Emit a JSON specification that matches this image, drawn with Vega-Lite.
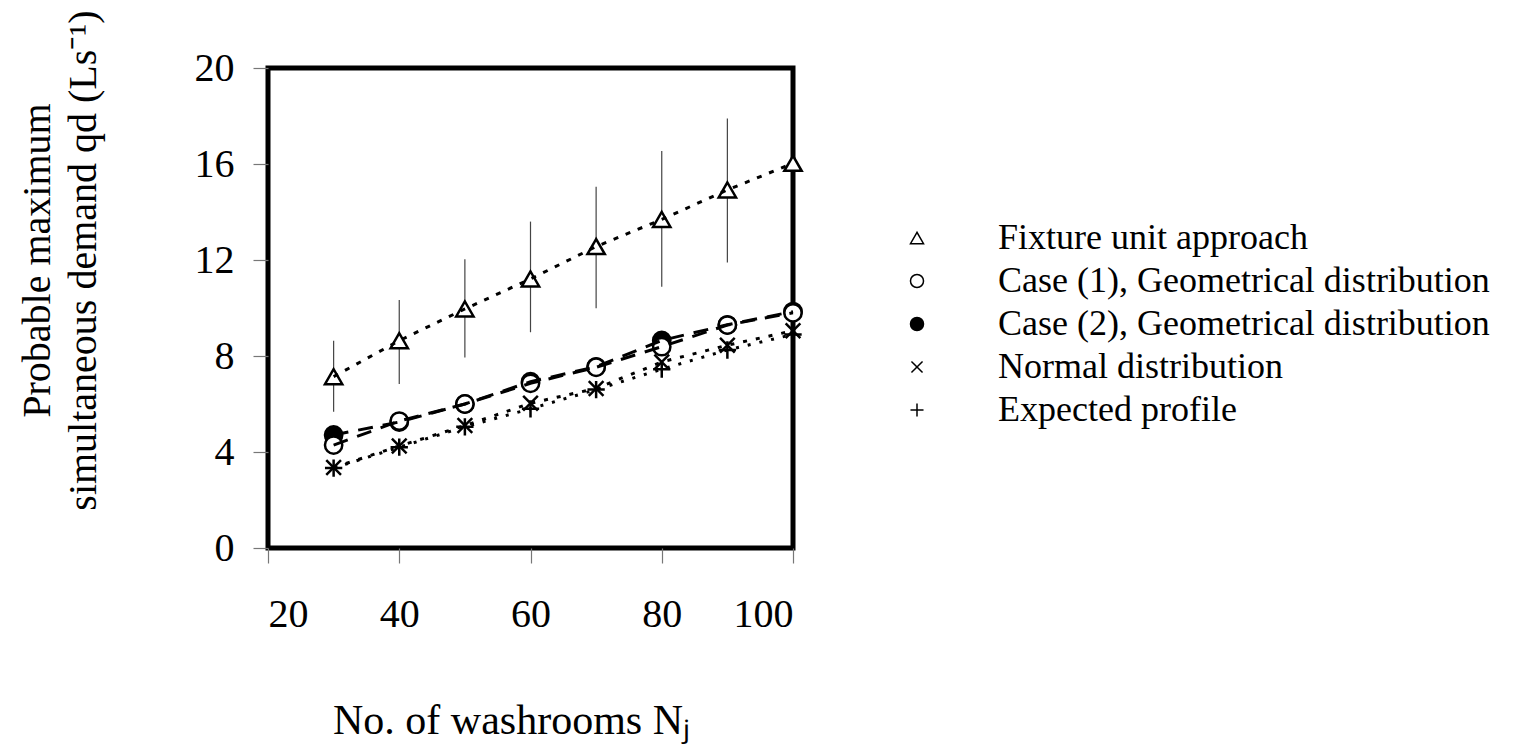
{
  "$schema": "https://vega.github.io/schema/vega-lite/v6.json",
  "width": 525,
  "height": 480,
  "autosize": {"type": "none"},
  "padding": {"left": 268, "top": 68, "right": 732, "bottom": 197},
  "background": "white",
  "config": {
    "font": "Liberation Serif",
    "view": {"stroke": "black", "strokeWidth": 5},
    "axis": {
      "grid": false, "domain": false, "tickColor": "#777", "tickWidth": 1.2, "tickSize": 15,
      "labelFont": "Liberation Serif", "labelFontSize": 40, "labelColor": "black",
      "titleFont": "Liberation Serif", "titleFontSize": 40, "titleFontWeight": "normal", "titleColor": "black"
    },
    "legend": {
      "labelFont": "Liberation Serif", "labelFontSize": 36, "labelColor": "black", "labelLimit": 900,
      "labelOffset": 63, "rowPadding": 7, "symbolSize": 170, "symbolStrokeWidth": 1.5,
      "symbolStrokeColor": "black", "padding": 0
    }
  },
  "data": {"values": [
    {"n": 30, "s": "Fixture unit approach", "q": 7.14, "lo": 5.68, "hi": 8.64},
    {"n": 40, "s": "Fixture unit approach", "q": 8.64, "lo": 6.83, "hi": 10.33},
    {"n": 50, "s": "Fixture unit approach", "q": 9.96, "lo": 7.94, "hi": 12.03},
    {"n": 60, "s": "Fixture unit approach", "q": 11.21, "lo": 8.99, "hi": 13.6},
    {"n": 70, "s": "Fixture unit approach", "q": 12.56, "lo": 9.99, "hi": 15.05},
    {"n": 80, "s": "Fixture unit approach", "q": 13.69, "lo": 10.89, "hi": 16.54},
    {"n": 90, "s": "Fixture unit approach", "q": 14.92, "lo": 11.9, "hi": 17.9},
    {"n": 100, "s": "Fixture unit approach", "q": 16.03},
    {"n": 30, "s": "Case (2), Geometrical distribution", "q": 4.71},
    {"n": 40, "s": "Case (2), Geometrical distribution", "q": 5.25},
    {"n": 50, "s": "Case (2), Geometrical distribution", "q": 6.0},
    {"n": 60, "s": "Case (2), Geometrical distribution", "q": 6.93},
    {"n": 70, "s": "Case (2), Geometrical distribution", "q": 7.55},
    {"n": 80, "s": "Case (2), Geometrical distribution", "q": 8.65},
    {"n": 90, "s": "Case (2), Geometrical distribution", "q": 9.3},
    {"n": 100, "s": "Case (2), Geometrical distribution", "q": 9.85},
    {"n": 30, "s": "Case (1), Geometrical distribution", "q": 4.29},
    {"n": 40, "s": "Case (1), Geometrical distribution", "q": 5.29},
    {"n": 50, "s": "Case (1), Geometrical distribution", "q": 6.0},
    {"n": 60, "s": "Case (1), Geometrical distribution", "q": 6.86},
    {"n": 70, "s": "Case (1), Geometrical distribution", "q": 7.53},
    {"n": 80, "s": "Case (1), Geometrical distribution", "q": 8.39},
    {"n": 90, "s": "Case (1), Geometrical distribution", "q": 9.29},
    {"n": 100, "s": "Case (1), Geometrical distribution", "q": 9.8},
    {"n": 30, "s": "Normal distribution", "q": 3.35},
    {"n": 40, "s": "Normal distribution", "q": 4.25},
    {"n": 50, "s": "Normal distribution", "q": 5.1},
    {"n": 60, "s": "Normal distribution", "q": 6.03},
    {"n": 70, "s": "Normal distribution", "q": 6.65},
    {"n": 80, "s": "Normal distribution", "q": 7.75},
    {"n": 90, "s": "Normal distribution", "q": 8.45},
    {"n": 100, "s": "Normal distribution", "q": 9.05},
    {"n": 30, "s": "Expected profile", "q": 3.33},
    {"n": 40, "s": "Expected profile", "q": 4.2},
    {"n": 50, "s": "Expected profile", "q": 5.05},
    {"n": 60, "s": "Expected profile", "q": 5.8},
    {"n": 70, "s": "Expected profile", "q": 6.6},
    {"n": 80, "s": "Expected profile", "q": 7.45},
    {"n": 90, "s": "Expected profile", "q": 8.25},
    {"n": 100, "s": "Expected profile", "q": 8.9}
  ]},
  "layer": [
    {
      "transform": [{"filter": "isValid(datum.hi)"}],
      "mark": {"type": "rule", "color": "#444", "strokeWidth": 1.2},
      "encoding": {
        "x": {"field": "n", "type": "quantitative", "scale": {"domain": [20, 100], "nice": false, "zero": false},
              "axis": {"values": [20, 40, 60, 80, 100], "labelPadding": 31, "title": "No. of washrooms N\u2c7c",
                       "titleX": 243, "titleY": 185, "titleBaseline": "alphabetic", "titleAlign": "center", "titleFontSize": 42}},
        "y": {"field": "lo", "type": "quantitative", "scale": {"domain": [0, 20], "nice": false},
              "axis": {"values": [0, 4, 8, 12, 16, 20], "labelPadding": 19,
                       "title": ["Probable maximum", "simultaneous demand qd (Ls\u207b\u00b9)"],
                       "titleX": -219, "titleY": 192, "titleAngle": -90, "titleAlign": "center",
                       "titleBaseline": "alphabetic", "titleLineHeight": 46}},
        "y2": {"field": "hi"}
      }
    },
    {
      "mark": {"type": "point", "filled": true, "stroke": "black", "strokeWidth": 2.5, "opacity": 1},
      "encoding": {
        "x": {"field": "n", "type": "quantitative"},
        "y": {"field": "q", "type": "quantitative"},
        "shape": {"field": "s", "type": "nominal",
          "scale": {"domain": ["Fixture unit approach", "Case (1), Geometrical distribution", "Case (2), Geometrical distribution", "Normal distribution", "Expected profile"],
                    "range": ["triangle-up", "circle", "circle", "M-0.85,-0.85L0.85,0.85M-0.85,0.85L0.85,-0.85", "M-1,0L1,0M0,-1L0,1"]},
          "legend": {"title": null, "orient": "none", "legendX": 631, "legendY": 152,
            "encoding": {"symbols": {"stroke": {"value": "black"}, "strokeWidth": {"value": 1.5}}}}},
        "fill": {"field": "s", "type": "nominal",
          "scale": {"domain": ["Fixture unit approach", "Case (1), Geometrical distribution", "Case (2), Geometrical distribution", "Normal distribution", "Expected profile"],
                    "range": ["white", "white", "black", "white", "white"]},
          "legend": {"title": null, "orient": "none", "legendX": 631, "legendY": 152,
            "encoding": {"symbols": {"stroke": {"value": "black"}, "strokeWidth": {"value": 1.5}}}}},
        "size": {"field": "s", "type": "nominal", "legend": null,
          "scale": {"domain": ["Expected profile", "Normal distribution", "Case (2), Geometrical distribution", "Case (1), Geometrical distribution", "Fixture unit approach"],
                    "range": [300, 300, 210, 210, 250]}}
      }
    },
    {
      "mark": {"type": "line", "color": "black", "strokeWidth": 3},
      "encoding": {
        "x": {"field": "n", "type": "quantitative"},
        "y": {"field": "q", "type": "quantitative"},
        "strokeDash": {"field": "s", "type": "nominal", "legend": null,
          "scale": {"domain": ["Normal distribution", "Expected profile", "Fixture unit approach", "Case (1), Geometrical distribution", "Case (2), Geometrical distribution"],
                    "range": [[4, 9], [3, 9], [5, 8], [15, 10], [15, 10]]}}
      }
    }
  ]
}
